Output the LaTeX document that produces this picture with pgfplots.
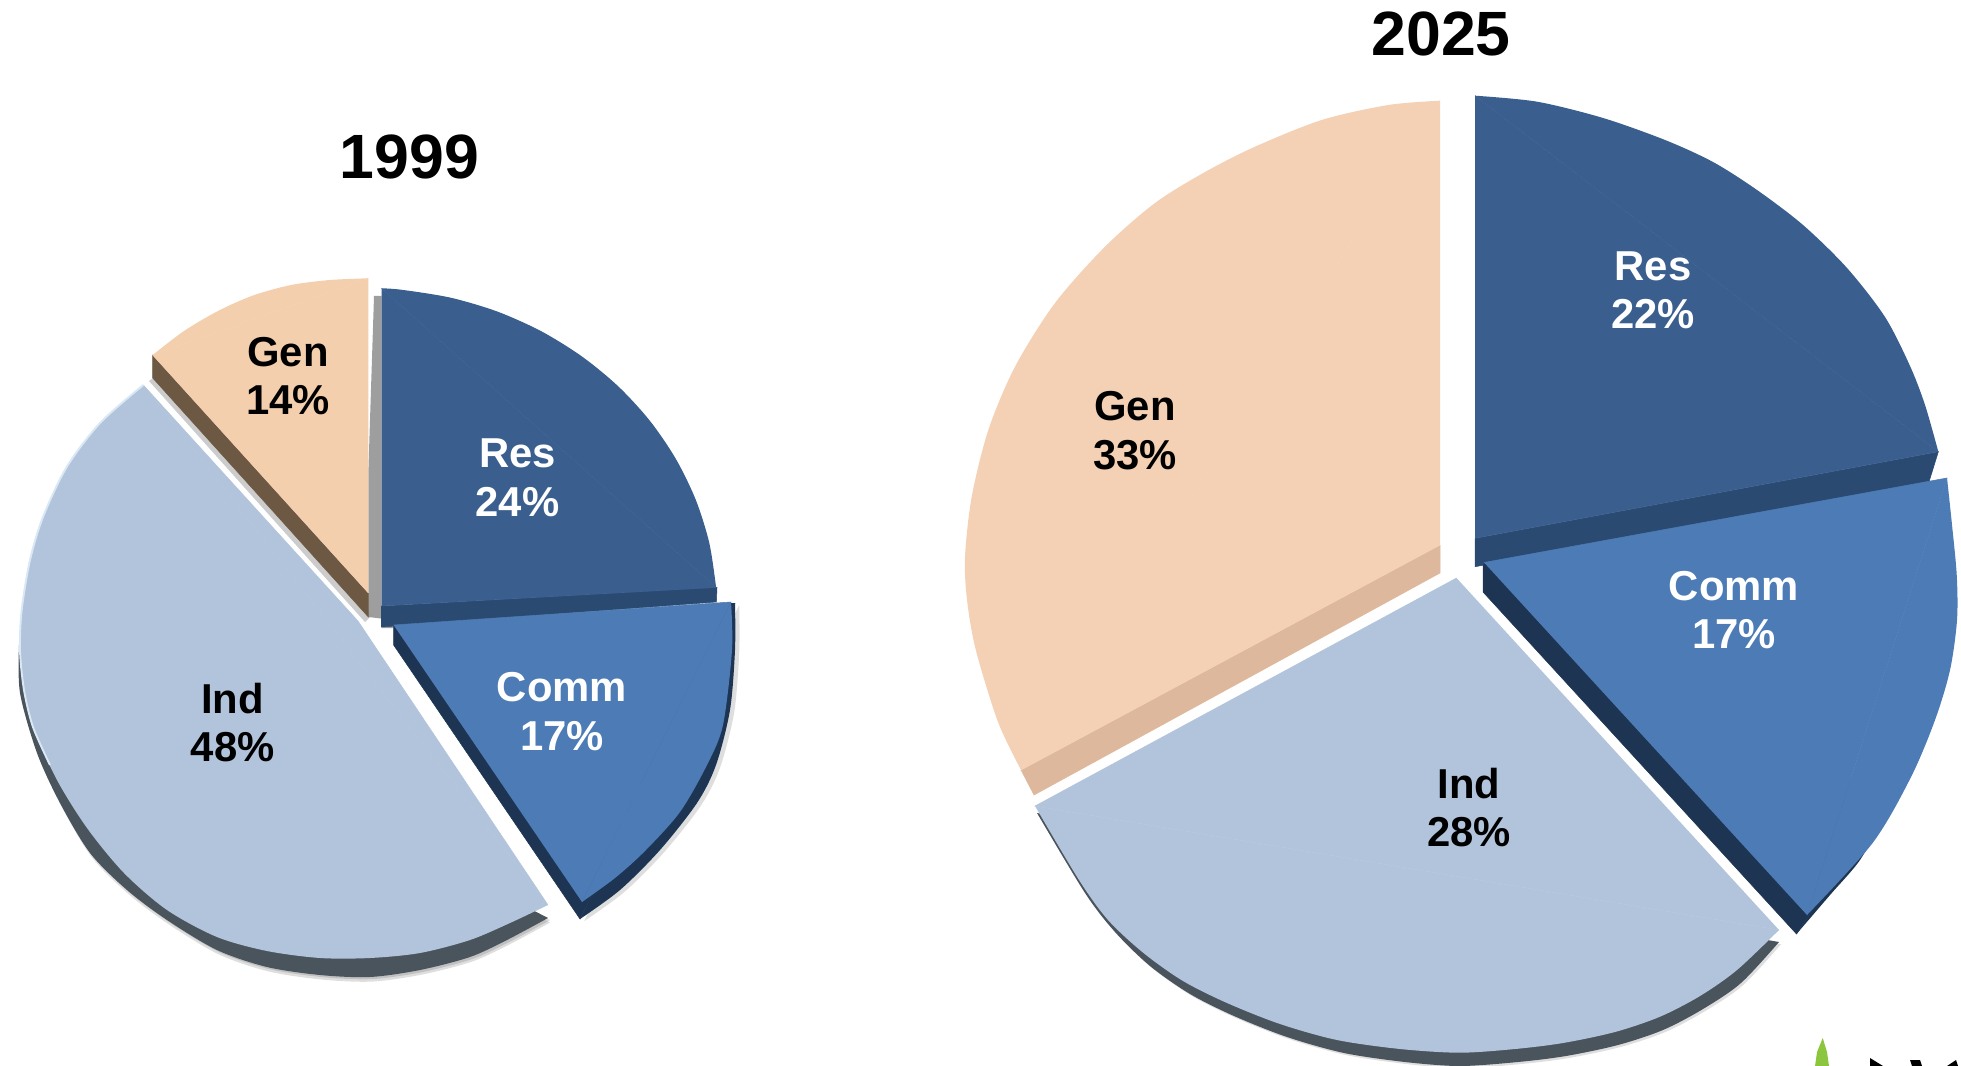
\documentclass[border=0pt]{standalone}
\usepackage{fontspec}
\setmainfont{Liberation Sans}
\usepackage{pgfplots}
\usepackage{pgfplotstable}
\pgfplotsset{compat=1.18}
\definecolor{gena}{HTML}{F3CFAE}
\definecolor{genb}{HTML}{F4D1B4}
\definecolor{res}{HTML}{3A5F8F}
\definecolor{comm}{HTML}{4C7BB5}
\definecolor{ind}{HTML}{B2C4DB}
\definecolor{resr}{HTML}{2A4A72}
\definecolor{commr}{HTML}{1D3452}
\definecolor{indr}{HTML}{4A545D}
\definecolor{genra}{HTML}{6D5843}
\definecolor{genrb}{HTML}{DEB89C}
\definecolor{hl}{HTML}{D9E8F4}
\newcommand{\lab}[1]{\fontsize{11.9}{13.8}\selectfont\bfseries #1}
\newcommand{\ttl}[1]{\fontsize{17.8}{20}\selectfont\bfseries #1}
% outlines of the rims, read in pixels of the reference
\pgfplotstableread{
x y
19 645
20 693
37 753
60 803
90 853
127 890
167 920
217 950
267 967
320 975
370 977
420 970
470 957
507 940
548 918
}\indrimA
\pgfplotstableread{
x y
580 919
620 890
660 850
697 803
716 765
730 710
735 650
735 603
}\commrimA
\pgfplotstableread{
x y
1037 813
1085 893
1115 932
1150 966
1190 994
1234 1016
1287 1037
1344 1053
1405 1062
1460 1066
1518 1062
1566 1056
1618 1045
1663 1030
1703 1009
1741 983
1779 942
}\indrimB
\begin{document}
\begin{tikzpicture}
\path[use as bounding box] (0,0) rectangle (19.61cm,10.66cm);
\begin{axis}[at={(0,0)},anchor=south west,scale only axis,width=19.61cm,height=10.66cm,
  hide axis,xmin=0,xmax=1961,ymin=0,ymax=1066,y dir=reverse,clip=true,
  every axis plot/.append style={draw=none,line width=0.15pt},
  face/.style={fill=#1,draw=#1,sharp plot},
  arc/.style={fill=#1,draw=none,smooth},
  soft/.style={fill=black,draw=none,smooth,fill opacity=0.13}]
% ---------- 1999 ----------
\addplot[soft,xshift=0.6pt,yshift=-1.3pt] table {\indrimA};
\addplot[soft,xshift=1.2pt,yshift=-0.6pt] table {\commrimA};
\addplot[soft,xshift=0.6pt,yshift=-0.6pt] table {\indrimA};
% Ind
\addplot[arc=indr] table {\indrimA};
\addplot[face=ind] coordinates {(358,621)(143.3,385)(548,905)(358,621)};
\addplot[arc=ind] coordinates {(143.3,385)(100,423)(66.7,467)(43,517)(30,560)(21.7,610)(20,650)(24,690)(33,727)(57,780)(87,828)(124,873)(167,910)(217,937)(267,951)(320,958)(370,958)(420,953)(470,940)(510,923)(548,905)};
\addplot[draw=hl,fill=none,smooth,line width=0.55pt] coordinates {(143.3,385)(100,423)(66.7,467)(43,517)(30,560)(21.7,610)(20,650)(24,690)(33,727)(50,765)};
% strip beside Gen
\addplot[fill=black!38,draw=none,sharp plot] coordinates {(374,296)(381.5,296)(381.5,628)(393,628)(393,620)(368.4,617)(368.4,470)};
% Gen
\addplot[fill=black!40,fill opacity=0.5,draw=none,sharp plot] coordinates {(149,381)(365,622)(372,615)(156,376)};
\addplot[fill=genra,draw=genra,sharp plot] coordinates {(152.7,355)(152.7,378)(368.4,617)(368.4,593)};
\addplot[face=gena] coordinates {(368.4,278.3)(152.7,355)(368.4,593)};
\addplot[arc=gena] coordinates {(368.4,278.3)(330,280)(291,285)(253,295.5)(218,311)(184,331)(152.7,355)};
% Res
\addplot[fill=resr,draw=resr,sharp plot] coordinates {(381.5,606)(381.5,627)(716.4,602)(717,587)};
\addplot[face=res] coordinates {(381.5,288.3)(716.1,587.5)(381.5,606)};
\addplot[arc=res] coordinates {(381.5,288.3)(401.8,289.8)(450.2,297.6)(496.9,311.4)(541,331.1)(581.7,356.3)(618.2,386.3)(649.8,420.7)(675.8,458.8)(695.8,499.9)(709.3,543)(716.1,587.5)};
% Comm
\addplot[fill=commr,draw=commr,sharp plot] coordinates {(393.6,625)(393.6,645)(580,919)(735,603)};
\addplot[arc=commr] table {\commrimA};
\addplot[face=comm] coordinates {(393.6,625)(731,602)(582,902)};
\addplot[arc=comm] coordinates {(731,602)(732,650)(723,725)(707,765)(680,812)(645,851)(615,878)(582,902)};
% ---------- 2025 ----------
% Ind
\addplot[soft,xshift=0.6pt,yshift=-0.6pt] table {\indrimB};
\addplot[arc=indr] table {\indrimB};
\addplot[face=ind] coordinates {(1456.5,578)(1035,806)(1779,930)};
\addplot[arc=ind] coordinates {(1035,806)(1079,880)(1108,920)(1143.5,953)(1183,981)(1227,1003)(1280,1024)(1337,1040)(1400,1049)(1459.7,1052.7)(1515,1049)(1563,1043)(1615,1032)(1660,1016.7)(1700,996)(1737,970)(1779,930)};
% Gen
\addplot[fill=genrb,draw=genrb,sharp plot] coordinates {(1440,545)(1440,573)(1034,795)(1021,770)};
\addplot[face=genb] coordinates {(1440,100.7)(1021,770)(1440,545)};
\addplot[arc=genb] coordinates {(1440,100.7)(1388.3,105)(1321.7,120)(1255,146.7)(1205,172)(1155,203)(1105,246.7)(1055,303)(1015,366.7)(988.3,430)(971.7,496.7)(965,556.7)(967,600)(975.8,650)(998,722)(1021,770)};
% Res
\addplot[fill=resr,draw=resr,sharp plot] coordinates {(1475,538.3)(1475,566.7)(1928.3,484)(1938.3,451.7)};
\addplot[face=res] coordinates {(1475,95.7)(1938.3,451.7)(1475,538.3)};
\addplot[arc=res] coordinates {(1475,95.7)(1537,101.7)(1603,118)(1665,140)(1713,162)(1757,190)(1803,225)(1847,268)(1885,317)(1910,366)(1925,405)(1938.3,451.7)};
% Comm
\addplot[fill=commr,draw=commr,sharp plot] coordinates {(1485,563)(1483,566)(1483,592)(1796.5,934)(1885,800)};
\addplot[arc=commr] coordinates {(1796.5,934)(1830,895)(1860,860)(1880,822)(1885,800)};
\addplot[face=comm] coordinates {(1484,562.5)(1947,478)(1807,915)};
\addplot[arc=comm] coordinates {(1947,478)(1952,525)(1956.7,575)(1957,620)(1950,670)(1935,720)(1911,777)(1872.6,843)(1807,915)};
% ---------- logo fragment ----------
\definecolor{leaf}{HTML}{8CC63F}
\addplot[fill=leaf,sharp plot] coordinates {(1822.7,1038)(1827,1052)(1829,1066)(1815,1066)(1817,1052)};
\addplot[fill=black,sharp plot] coordinates {(1870,1058)(1883,1066)(1870,1066)};
\addplot[fill=black,sharp plot] coordinates {(1910,1060)(1920,1060)(1922,1066)(1912,1066)};
\addplot[fill=black,sharp plot] coordinates {(1947,1066)(1956,1060)(1958,1066)};
% ---------- text ----------
\node[anchor=base] at (axis cs:409.5,178.5) {\ttl{1999}};
\node[anchor=base] at (axis cs:1441,55.5) {\ttl{2025}};
\node[anchor=base,text=black] at (axis cs:288,366.7) {\lab{Gen}};
\node[anchor=base,text=black] at (axis cs:288,415) {\lab{14\%}};
\node[anchor=base,text=white] at (axis cs:517.5,468) {\lab{Res}};
\node[anchor=base,text=white] at (axis cs:517.5,516.7) {\lab{24\%}};
\node[anchor=base,text=white] at (axis cs:562,701.7) {\lab{Comm}};
\node[anchor=base,text=white] at (axis cs:562,750) {\lab{17\%}};
\node[anchor=base,text=black] at (axis cs:232.6,713) {\lab{Ind}};
\node[anchor=base,text=black] at (axis cs:232.6,761.7) {\lab{48\%}};
\node[anchor=base,text=white] at (axis cs:1653,280.5) {\lab{Res}};
\node[anchor=base,text=white] at (axis cs:1653,329) {\lab{22\%}};
\node[anchor=base,text=black] at (axis cs:1135,421) {\lab{Gen}};
\node[anchor=base,text=black] at (axis cs:1135,470) {\lab{33\%}};
\node[anchor=base,text=white] at (axis cs:1734,600) {\lab{Comm}};
\node[anchor=base,text=white] at (axis cs:1734,648) {\lab{17\%}};
\node[anchor=base,text=black] at (axis cs:1469,798) {\lab{Ind}};
\node[anchor=base,text=black] at (axis cs:1469,846.7) {\lab{28\%}};
\end{axis}
\end{tikzpicture}
\end{document}
